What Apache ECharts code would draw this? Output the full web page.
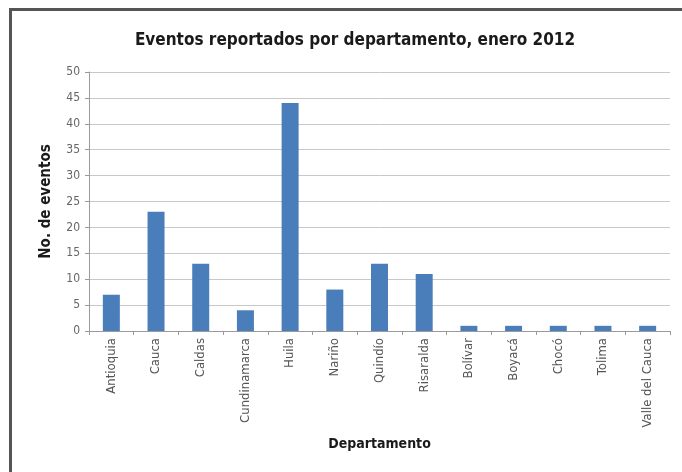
<!DOCTYPE html>
<html><head><meta charset="utf-8">
<script src="https://cdn.jsdelivr.net/npm/echarts@6/dist/echarts.min.js"></script>
<style>html,body{margin:0;padding:0;background:#fff}#c{width:682px;height:472px}</style>
</head><body><div id="c"></div>
<script>
const categories = ['Antioquia','Cauca','Caldas','Cundinamarca','Huila','Nariño','Quindío','Risaralda','Bolívar','Boyacá','Chocó','Tolima','Valle del Cauca'];
const values = [7,23,13,4,44,8,13,11,1,1,1,1,1];
const yTicks = {min:0, max:50, interval:5};
const titleText = 'Eventos reportados por departamento, enero 2012';
const xName = 'Departamento';
const yName = 'No. de eventos';
const narrow = '"Liberation Sans Narrow","DejaVu Sans Condensed","Liberation Sans",sans-serif';
const chart = echarts.init(document.getElementById('c'));
chart.setOption({
  animation:false,
  backgroundColor:'#fff',
  title:{text:titleText,left:350,textAlign:'center',top:27,textStyle:{fontFamily:narrow,fontSize:17,fontWeight:'bold',color:'#1a1a1a'}},
  graphic:[{type:'polyline',shape:{points:[[10.5,472],[10.5,9.5],[682,9.5]]},style:{stroke:'#555',lineWidth:3,fill:null}}],
  grid:{left:89,right:12,top:72,bottom:141},
  xAxis:{type:'category',data:categories,name:xName,nameLocation:'middle',nameGap:106,
    nameTextStyle:{fontFamily:narrow,fontSize:14,fontWeight:'bold',color:'#1a1a1a'},
    axisLine:{lineStyle:{color:'#9a9a9a'}},axisTick:{show:true,length:4,lineStyle:{color:'#9a9a9a'}},
    axisLabel:{rotate:90,fontFamily:narrow,fontSize:13,color:'#555',margin:7}},
  yAxis:{type:'value',min:yTicks.min,max:yTicks.max,interval:yTicks.interval,name:yName,nameLocation:'middle',nameGap:35,
    nameTextStyle:{fontFamily:narrow,fontSize:15,fontWeight:'bold',color:'#1a1a1a'},
    axisLine:{show:true,lineStyle:{color:'#9a9a9a'}},axisTick:{show:true,length:4,lineStyle:{color:'#9a9a9a'}},
    splitLine:{lineStyle:{color:'#c8c8c8'}},
    axisLabel:{fontFamily:narrow,fontSize:12,color:'#666',margin:9}},
  series:[{type:'bar',data:values,barWidth:17,itemStyle:{color:'#4a7ebb'}}]
});
</script></body></html>
